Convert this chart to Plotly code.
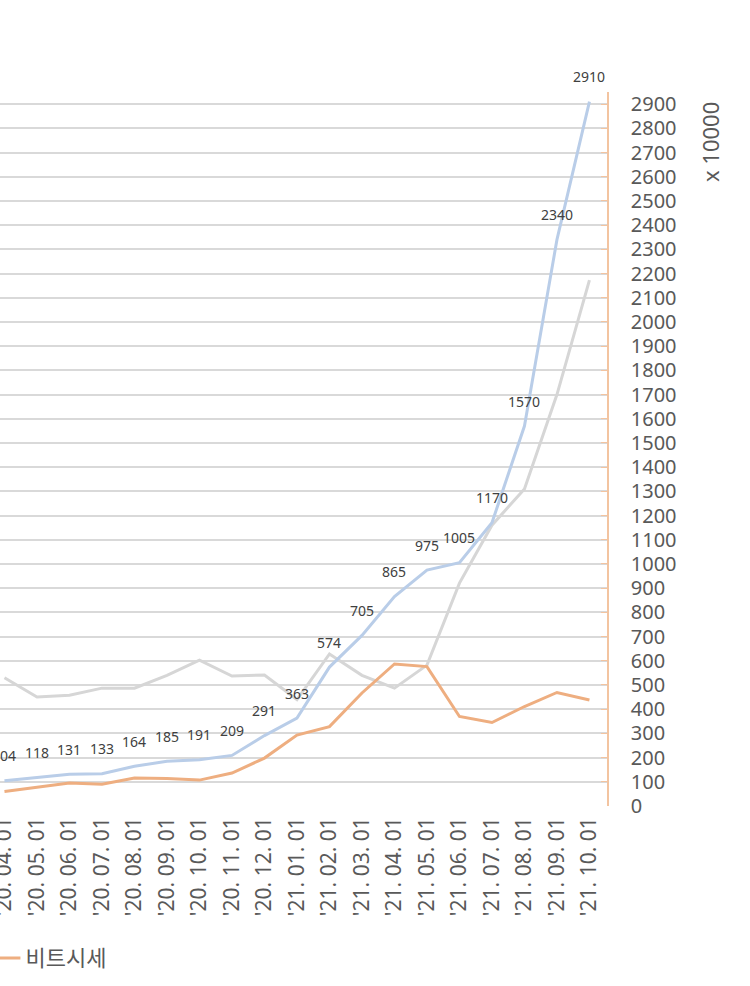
import plotly.graph_objects as go

categories = ["'20. 04. 01", "'20. 05. 01", "'20. 06. 01", "'20. 07. 01", "'20. 08. 01",
              "'20. 09. 01", "'20. 10. 01", "'20. 11. 01", "'20. 12. 01", "'21. 01. 01",
              "'21. 02. 01", "'21. 03. 01", "'21. 04. 01", "'21. 05. 01", "'21. 06. 01",
              "'21. 07. 01", "'21. 08. 01", "'21. 09. 01", "'21. 10. 01"]
blue_values = [104, 118, 131, 133, 164, 185, 191, 209, 291, 363, 574, 705, 865, 975, 1005,
               1170, 1570, 2340, 2910]
gray_values = [530, 450, 458, 487, 487, 540, 603, 537, 541, 440, 628, 540, 487, 582, 921,
               1160, 1310, 1700, 2173]
orange_values = [60, 78, 95, 90, 116, 114, 107, 136, 198, 293, 328, 467, 587, 576, 370,
                 345, 411, 469, 438]
y_ticks = list(range(0, 3000, 100))

FONT = "Noto Sans, Noto Sans CJK KR, sans-serif"
x_idx = list(range(len(categories)))

fig = go.Figure()
fig.add_trace(go.Scatter(x=x_idx, y=gray_values, mode="lines", name="gray",
                         line=dict(color="#d6d6d6", width=3), showlegend=False))
fig.add_trace(go.Scatter(x=x_idx, y=blue_values, mode="lines", name="blue",
                         line=dict(color="#b9cde8", width=3), showlegend=False))
fig.add_trace(go.Scatter(x=x_idx, y=orange_values, mode="lines", name="비트시세",
                         line=dict(color="#eeae80", width=3), showlegend=True))

for xi, v in zip(x_idx, blue_values):
    fig.add_annotation(x=xi, y=v, text=str(v), showarrow=False, yshift=25,
                       font=dict(family=FONT, size=14, color="#404040"))

fig.add_annotation(xref="paper", yref="paper", x=1.1697, y=0.93, text="x 10000",
                   xanchor="center", yanchor="middle",
                   textangle=-90, showarrow=False,
                   font=dict(family=FONT, size=22, color="#595959"))

fig.update_layout(
    width=750, height=986,
    margin=dict(l=0, r=143, t=92, b=180, autoexpand=False),
    paper_bgcolor="white", plot_bgcolor="white",
    font=dict(family=FONT, color="#595959"),
    legend=dict(orientation="h", x=-0.024, y=-0.213, xanchor="left", yanchor="middle",
                font=dict(family=FONT, size=22, color="#595959"), bgcolor="rgba(0,0,0,0)"),
    xaxis=dict(range=[-0.138, 18.54], tickmode="array", tickvals=x_idx, ticktext=categories,
               tickangle=-90, tickfont=dict(family=FONT, size=21, color="#595959"),
               ticklabeloverflow="allow", ticklabelstandoff=6,
               showgrid=False, zeroline=False, showline=False, ticks=""),
    yaxis=dict(side="right", range=[0, 2950], tickmode="array", tickvals=y_ticks,
               tickfont=dict(family=FONT, size=20, color="#595959"),
               showgrid=True, gridcolor="#d9d9d9", gridwidth=1.5, zeroline=False,
               showline=True, linecolor="#f3c4a0", linewidth=1.5,
               ticks="inside", ticklen=6, tickcolor="#f3c4a0", ticklabelstandoff=18),
)

fig.write_html("out.html")
